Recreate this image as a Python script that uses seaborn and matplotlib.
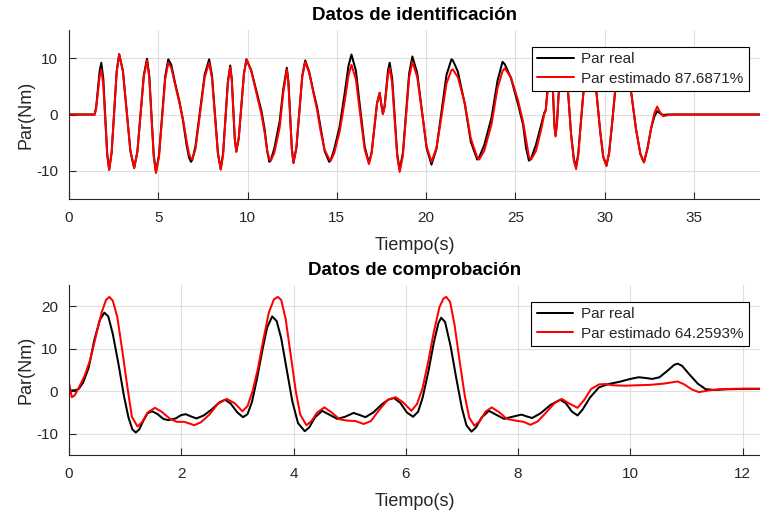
import matplotlib
matplotlib.use("Agg")
import matplotlib.pyplot as plt
import pandas as pd
import seaborn as sns

# ---------------- identification data (torque vs time) ----------------
t_ident = [
    0.00, 1.44, 1.52, 1.62, 1.72, 1.81, 1.92, 2.03, 2.14, 2.25,
    2.39, 2.53, 2.67, 2.81, 3.02, 3.23, 3.44, 3.65, 3.83, 4.01,
    4.19, 4.37, 4.495, 4.62, 4.745, 4.87, 5.04, 5.215, 5.39, 5.56,
    5.73, 5.92, 6.20, 6.39, 6.58, 6.72, 6.83, 6.90, 7.08, 7.34,
    7.60, 7.85, 8.01, 8.175, 8.34, 8.50, 8.63, 8.765, 8.90, 9.03,
    9.115, 9.20, 9.285, 9.37, 9.51, 9.655, 9.80, 9.94, 10.20, 10.50,
    10.78, 10.96, 11.10, 11.22, 11.30, 11.50, 11.80, 12.00, 12.20, 12.29,
    12.385, 12.48, 12.57, 12.735, 12.90, 13.065, 13.23, 13.45, 13.68, 13.90,
    14.10, 14.32, 14.57, 14.66, 14.85, 15.16, 15.45, 15.65, 15.82, 16.07,
    16.31, 16.56, 16.80, 16.95, 17.10, 17.25, 17.40, 17.49, 17.58, 17.675,
    17.77, 17.865, 17.96, 18.10, 18.24, 18.38, 18.52, 18.70, 18.875, 19.05,
    19.23, 19.50, 19.765, 20.03, 20.30, 20.58, 20.86, 21.14, 21.42, 21.50,
    21.78, 22.17, 22.50, 22.86, 22.97, 23.25, 23.66, 24.00, 24.28, 24.41,
    24.75, 25.15, 25.43, 25.60, 25.76, 25.88, 26.15, 26.45, 26.62, 26.70,
    26.80, 26.92, 27.00, 27.06, 27.12, 27.19, 27.25, 27.33, 27.42, 27.55,
    27.70, 27.85, 27.96, 28.12, 28.28, 28.40, 28.52, 28.65, 28.80, 28.95,
    29.15, 29.35, 29.55, 29.75, 29.92, 30.10, 30.25, 30.42, 30.57, 30.75,
    31.00, 31.25, 31.50, 31.75, 32.00, 32.20, 32.40, 32.60, 32.78, 32.94,
    33.10, 33.28, 33.50, 33.80, 38.70,
]
par_real_ident = [
    0.0, 0.0, 1.3, 4.6, 7.8, 9.2, 6.4, -0.3, -7.0, -9.8,
    -6.7, 0.45, 7.6, 10.7, 7.7, 0.6, -6.5, -9.5, -6.6, 0.2,
    7.0, 9.9, 6.9, -0.15, -7.2, -10.2, -7.2, -0.2, 6.8, 9.8,
    8.8, 5.9, 2.1, -1.2, -5.3, -7.6, -8.4, -8.1, -5.7, 0.7,
    7.1, 9.8, 6.9, 0.05, -6.8, -9.7, -6.9, -0.5, 5.9, 8.7,
    6.4, 1.05, -4.3, -6.6, -4.1, 1.6, 7.3, 9.8, 7.9, 4.1,
    0.6, -2.7, -6.5, -8.4, -8.1, -6.0, -1.2, 4.5, 8.3, 5.8,
    -0.15, -6.1, -8.6, -5.9, 0.5, 6.9, 9.6, 7.6, 4.2, 1.2,
    -2.5, -6.5, -8.4, -8.1, -6.2, -2.1, 4.0, 8.6, 10.65, 7.75,
    1.0, -5.7, -8.6, -6.7, -2.4, 2.0, 3.85, 1.8, 0.1, 1.5,
    4.65, 7.8, 9.2, 6.35, -0.3, -6.95, -9.8, -6.8, 0.2, 7.3,
    10.3, 7.4, 0.7, -6.0, -8.9, -6.1, 0.45, 7.0, 9.8, 9.6,
    7.6, 1.8, -4.8, -8.0, -7.6, -5.5, -0.6, 6.0, 9.35, 8.9,
    6.5, 1.8, -1.8, -6.0, -8.2, -7.8, -5.4, -1.8, 0.3, 0.8,
    4.5, 8.0, 9.0, 7.0, 3.0, -2.0, -3.7, -1.5, 3.5, 8.0,
    9.5, 7.0, 3.6, -3.5, -8.0, -9.2, -7.0, -2.0, 3.6, 7.5,
    9.5, 7.5, 3.6, -3.0, -7.5, -9.1, -6.8, -1.5, 3.6, 7.5,
    9.5, 7.5, 3.6, -2.5, -7.0, -8.5, -6.0, -2.5, -0.4, 0.6,
    0.2, -0.1, 0.0, 0.0, 0.0,
]
par_est_ident = [
    0.0, 0.0, 1.1, 4.0, 6.8, 8.0, 5.3, -0.9, -7.1, -9.8,
    -6.7, 0.45, 7.6, 10.7, 7.7, 0.6, -6.5, -9.5, -6.6, 0.1,
    6.7, 9.6, 6.6, -0.4, -7.4, -10.4, -7.5, -0.6, 6.3, 9.2,
    8.3, 5.6, 1.8, -0.9, -4.6, -7.0, -7.8, -8.0, -6.2, 0.2,
    6.6, 9.2, 6.35, -0.3, -7.0, -9.8, -7.1, -0.7, 5.7, 8.4,
    6.15, 0.9, -4.35, -6.6, -4.1, 1.6, 7.3, 9.8, 7.8, 3.8,
    0.0, -3.3, -6.4, -7.9, -8.2, -6.8, -2.3, 3.8, 8.0, 5.5,
    -0.3, -6.1, -8.6, -5.9, 0.4, 6.7, 9.35, 7.4, 4.0, 0.7,
    -3.1, -6.3, -7.9, -8.2, -6.9, -3.0, 2.5, 6.9, 8.8, 6.2,
    0.0, -6.2, -8.8, -6.9, -2.5, 1.9, 3.85, 1.8, 0.1, 1.3,
    4.2, 7.1, 8.3, 5.5, -0.95, -7.4, -10.2, -7.3, -0.4, 6.5,
    9.4, 6.7, 0.5, -5.7, -8.4, -5.9, -0.4, 5.5, 7.9, 8.0,
    6.6, 2.0, -4.2, -7.6, -8.0, -6.5, -1.8, 4.7, 7.7, 8.2,
    6.6, 2.5, -1.3, -4.5, -7.5, -8.0, -6.5, -2.6, 0.1, 0.7,
    4.0, 8.0, 9.0, 7.0, 3.0, -2.2, -3.9, -1.6, 3.4, 8.0,
    9.5, 7.0, 3.6, -3.6, -8.3, -9.7, -7.3, -2.1, 3.5, 7.4,
    9.5, 7.5, 3.6, -3.0, -7.5, -9.1, -6.8, -1.5, 3.6, 7.5,
    9.5, 7.5, 3.6, -2.5, -7.0, -8.5, -6.0, -2.4, 0.2, 1.4,
    0.4, -0.3, -0.15, 0.0, 0.0,
]

# ---------------- validation data (torque vs time) ----------------
t_real_comp = [
    0.00, 0.10, 0.17, 0.25, 0.35, 0.45, 0.55, 0.63, 0.70, 0.78,
    0.88, 0.98, 1.06, 1.13, 1.19, 1.25, 1.33, 1.40, 1.48, 1.58,
    1.68, 1.77, 1.90, 2.00, 2.08, 2.17, 2.27, 2.40, 2.55, 2.68,
    2.78, 2.88, 3.00, 3.10, 3.18, 3.26, 3.35, 3.45, 3.53, 3.62,
    3.70, 3.78, 3.88, 3.98, 4.08, 4.20, 4.28, 4.38, 4.51, 4.65,
    4.78, 4.92, 5.07, 5.18, 5.28, 5.42, 5.58, 5.70, 5.79, 5.90,
    6.02, 6.13, 6.22, 6.30, 6.40, 6.50, 6.58, 6.63, 6.70, 6.80,
    6.90, 7.00, 7.08, 7.17, 7.25, 7.35, 7.48, 7.62, 7.75, 7.90,
    8.06, 8.15, 8.25, 8.40, 8.58, 8.75, 8.85, 8.96, 9.06, 9.15,
    9.28, 9.44, 9.61, 9.80, 10.00, 10.15, 10.28, 10.39, 10.52, 10.66,
    10.78, 10.84, 10.92, 11.05, 11.20, 11.34, 11.50, 11.70, 12.00, 12.31,
]
par_real_comp = [
    0.2, 0.2, 0.5, 2.0, 5.5, 12.0, 16.8, 18.5, 17.6, 13.5,
    6.5, -1.2, -6.2, -9.0, -9.7, -9.0, -6.8, -5.2, -4.7, -5.4,
    -6.5, -6.8, -6.4, -5.6, -5.4, -5.9, -6.4, -5.7, -4.2, -2.6,
    -2.0, -2.9, -5.0, -6.1, -5.4, -2.5, 3.0, 10.0, 15.0, 17.6,
    16.5, 12.5, 5.0, -2.5, -7.5, -9.4, -8.5, -6.2, -4.6, -5.6,
    -6.5, -6.0, -5.1, -5.6, -6.1, -5.0, -3.0, -1.9, -1.6, -2.7,
    -5.0, -6.0, -4.8, -1.5, 4.5, 11.5, 16.0, 17.3, 16.3, 10.5,
    3.0, -4.0, -8.0, -9.5, -8.5, -6.2, -4.6, -5.6, -6.5, -6.0,
    -5.5, -5.9, -6.3, -5.2, -3.2, -2.0, -2.8, -4.8, -5.7, -4.3,
    -1.5, 0.9, 1.7, 2.2, 2.9, 3.3, 3.1, 2.9, 3.3, 4.8,
    6.2, 6.5, 6.0, 4.0, 1.8, 0.5, 0.3, 0.45, 0.55, 0.55,
]
t_est_comp = [
    0.00, 0.05, 0.10, 0.20, 0.28, 0.38, 0.48, 0.58, 0.66, 0.72,
    0.78, 0.86, 0.95, 1.04, 1.12, 1.22, 1.30, 1.40, 1.53, 1.65,
    1.80, 1.92, 2.05, 2.15, 2.23, 2.35, 2.50, 2.65, 2.81, 2.95,
    3.09, 3.18, 3.27, 3.36, 3.46, 3.56, 3.65, 3.72, 3.78, 3.86,
    3.95, 4.04, 4.12, 4.23, 4.32, 4.42, 4.55, 4.68, 4.82, 4.95,
    5.10, 5.25, 5.38, 5.52, 5.68, 5.82, 5.95, 6.10, 6.20, 6.30,
    6.40, 6.50, 6.60, 6.67, 6.72, 6.79, 6.87, 6.96, 7.05, 7.13,
    7.22, 7.32, 7.42, 7.53, 7.66, 7.80, 7.95, 8.10, 8.22, 8.35,
    8.50, 8.65, 8.78, 8.90, 9.06, 9.18, 9.30, 9.44, 9.55, 9.70,
    9.90, 10.10, 10.35, 10.60, 10.84, 10.95, 11.10, 11.22, 11.40, 11.60,
    12.00, 12.31,
]
par_est_comp = [
    2.0, -1.4, -1.0, 1.5, 3.7, 7.5, 13.0, 18.5, 21.5, 22.2,
    21.3, 17.5, 9.5, 1.0, -6.0, -8.3, -7.3, -5.0, -3.9, -4.8,
    -6.5, -7.2, -7.2, -7.6, -8.0, -7.3, -5.5, -3.0, -1.8, -2.8,
    -4.7, -3.5, 0.0, 5.0, 12.0, 18.5, 21.6, 22.2, 21.5, 17.0,
    8.5, 0.0, -5.5, -8.0, -7.0, -5.0, -3.8, -5.0, -6.6, -6.9,
    -7.0, -7.7, -7.0, -4.5, -2.0, -1.4, -2.6, -4.6, -3.0, 0.8,
    7.0, 14.0, 19.8, 21.8, 22.2, 21.0, 15.5, 7.0, -1.0, -6.2,
    -8.1, -7.0, -4.8, -3.8, -4.9, -6.5, -6.9, -7.2, -7.9, -7.1,
    -5.0, -2.8, -1.8, -2.8, -3.9, -2.0, 0.5, 1.6, 1.7, 1.4,
    1.3, 1.4, 1.5, 1.8, 2.3, 1.7, 0.4, -0.2, 0.2, 0.5,
    0.6, 0.6,
]

# ---------------- texts and axis settings ----------------
labels_ident = ["Par real", "Par estimado 87.6871%"]
labels_comp = ["Par real", "Par estimado 64.2593%"]
title_ident = "Datos de identificación"
title_comp = "Datos de comprobación"
x_label = "Tiempo(s)"
y_label = "Par(Nm)"
xticks_ident = [0, 5, 10, 15, 20, 25, 30, 35]
yticks_ident = [-10, 0, 10]
xticks_comp = [0, 2, 4, 6, 8, 10, 12]
yticks_comp = [-10, 0, 10, 20]
xlim_ident = (0, 38.7)
ylim_ident = (-15, 15)
xlim_comp = (0, 12.31)
ylim_comp = (-15, 25)

sns.set_theme(style="white")
plt.rcParams["font.family"] = ["Liberation Sans", "DejaVu Sans"]
plt.rcParams["axes.unicode_minus"] = False

AX_COLOR = "#262626"
LINE_W = 1.45
W, H = 760, 512
fig = plt.figure(figsize=(W / 100, H / 100), dpi=100)
ax_top = fig.add_axes([69 / W, 1 - 199 / H, (W - 69) / W, 169 / H])
ax_bot = fig.add_axes([69 / W, 1 - 455 / H, (W - 69) / W, 170 / H])


def long_frame(t_a, y_a, t_b, y_b, names):
    a = pd.DataFrame({"t": t_a, "par": y_a, "serie": names[0]})
    b = pd.DataFrame({"t": t_b, "par": y_b, "serie": names[1]})
    return pd.concat([a, b], ignore_index=True)


def draw_panel(ax, df, names, title, xticks, yticks, xlim, ylim, legend_y):
    sns.lineplot(data=df, x="t", y="par", hue="serie", hue_order=names,
                 palette=["#000000", "#ff0000"], estimator=None, sort=False,
                 linewidth=LINE_W, ax=ax)
    ax.set_xlim(*xlim)
    ax.set_ylim(*ylim)
    ax.set_xticks(xticks)
    ax.set_yticks(yticks)
    ax.grid(True, color="#dedede", linewidth=0.8)
    ax.set_axisbelow(True)
    for side in ("top", "right"):
        ax.spines[side].set_visible(False)
    for side in ("left", "bottom"):
        ax.spines[side].set_color(AX_COLOR)
        ax.spines[side].set_linewidth(0.8)
    ax.tick_params(direction="in", length=5, width=0.8, colors=AX_COLOR,
                   labelsize=11, pad=9, bottom=True, left=True)
    ax.tick_params(axis="y", pad=8)
    ax.set_title(title, fontsize=13.5, fontweight="bold", color="black", pad=7)
    ax.set_xlabel(x_label, fontsize=13, color=AX_COLOR, labelpad=8)
    ax.set_ylabel(y_label, fontsize=13, color=AX_COLOR, labelpad=1)
    handles, _ = ax.get_legend_handles_labels()
    leg = ax.legend(handles, names, loc="upper right",
                    bbox_to_anchor=(0.984, legend_y), borderaxespad=0,
                    fontsize=11, frameon=True, fancybox=False, framealpha=1,
                    edgecolor="#000000", handlelength=2.4, labelspacing=0.35,
                    borderpad=0.35, handletextpad=0.5)
    leg.get_frame().set_linewidth(0.8)
    for line in leg.get_lines():
        line.set_linewidth(LINE_W)


draw_panel(ax_top, long_frame(t_ident, par_real_ident, t_ident, par_est_ident, labels_ident),
           labels_ident, title_ident, xticks_ident, yticks_ident,
           xlim_ident, ylim_ident, 0.899)
draw_panel(ax_bot, long_frame(t_real_comp, par_real_comp, t_est_comp, par_est_comp, labels_comp),
           labels_comp, title_comp, xticks_comp, yticks_comp,
           xlim_comp, ylim_comp, 0.90)

fig.savefig("out.png", dpi=100)
